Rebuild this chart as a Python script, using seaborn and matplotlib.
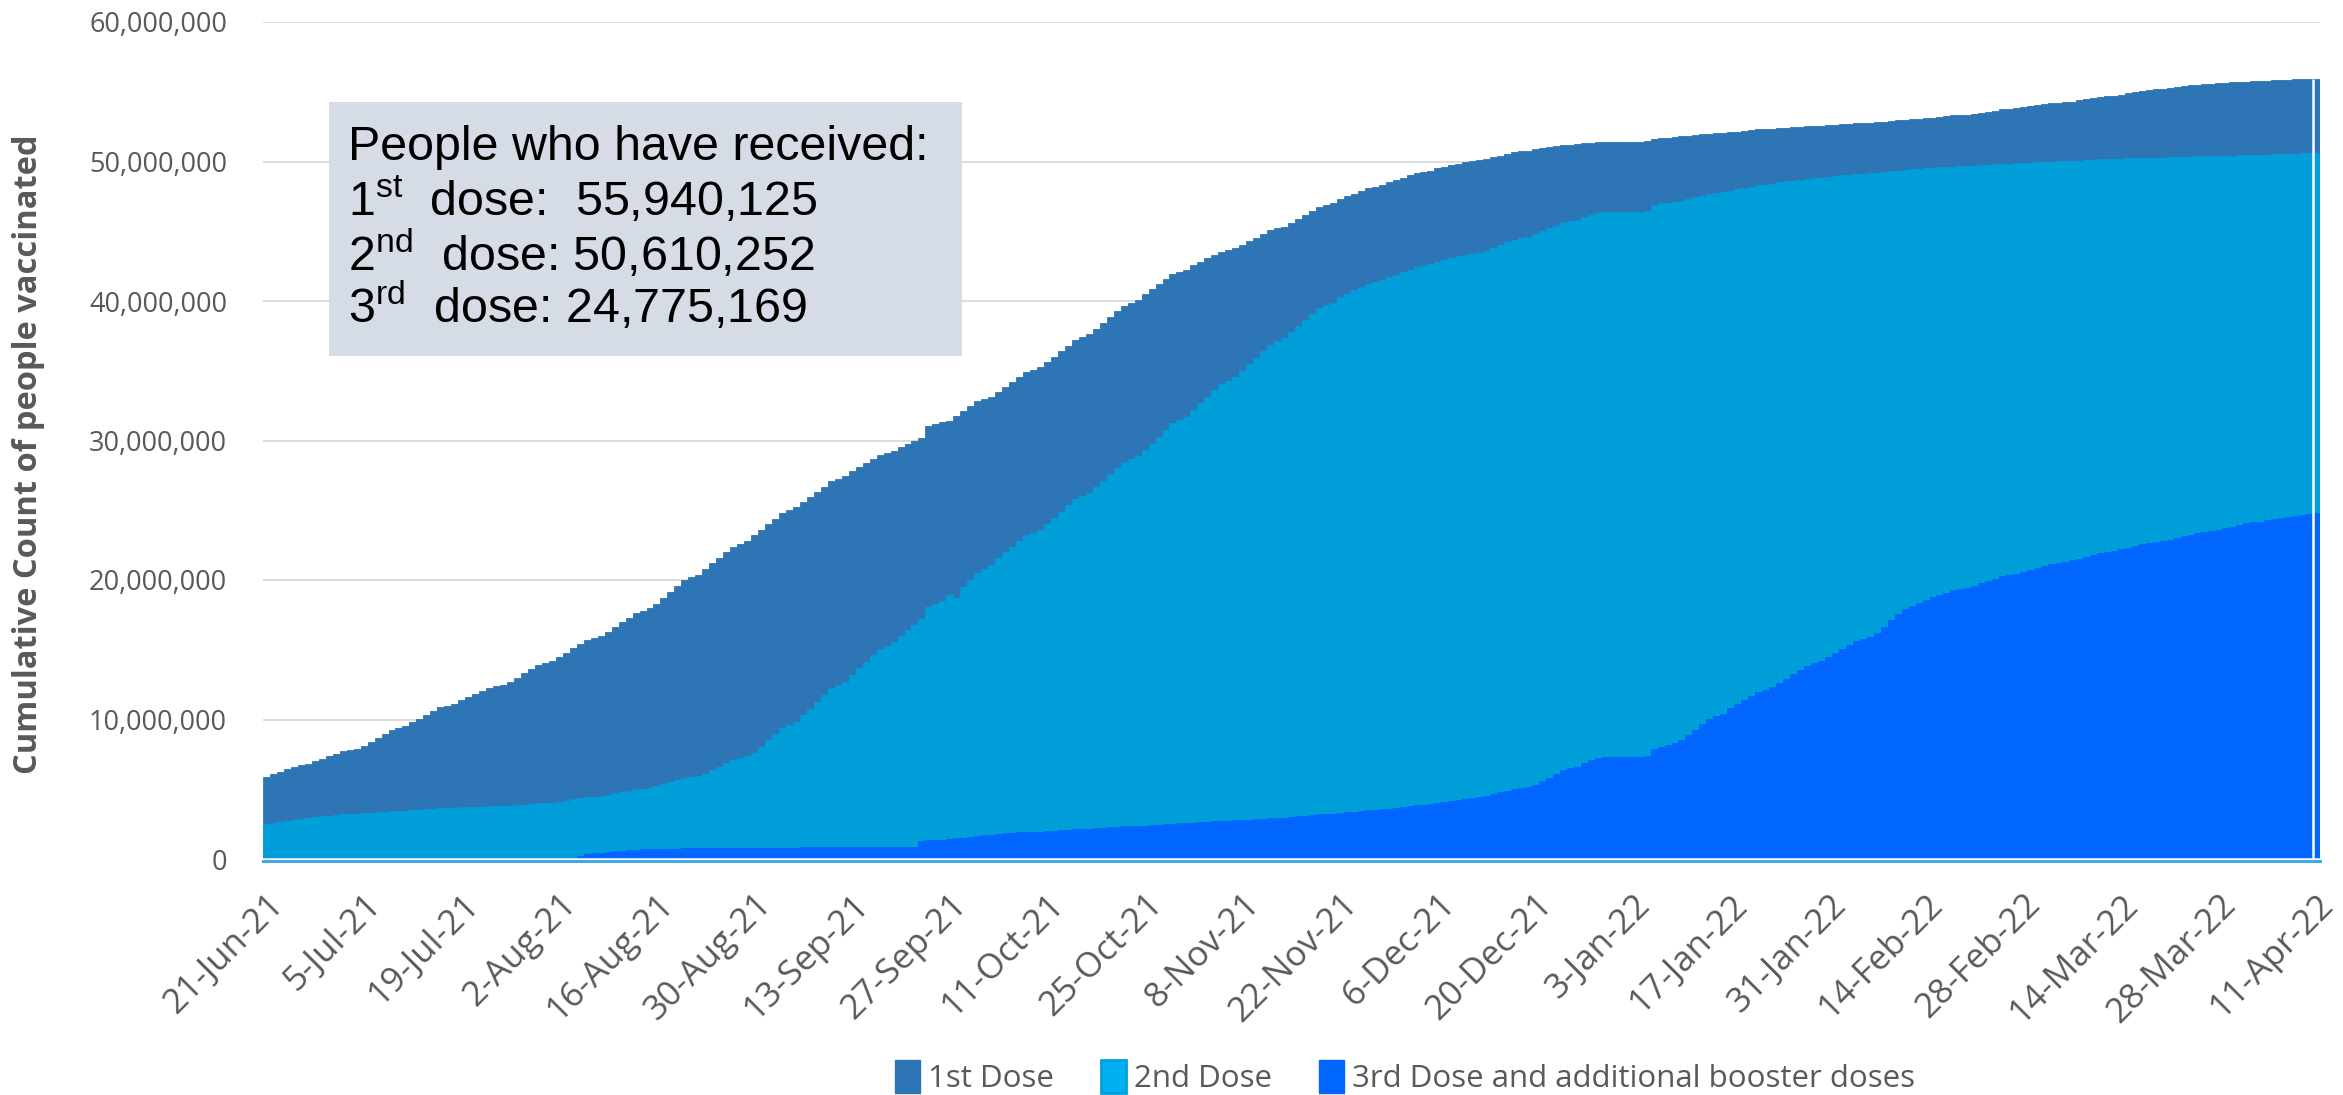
import matplotlib
matplotlib.use("Agg")
import matplotlib.pyplot as plt
from matplotlib.patches import Patch, Rectangle
import seaborn as sns
import pandas as pd
import numpy as np

# ---------------- data (millions of people, one value per day 21-Jun-21 .. 11-Apr-22) ----------------
first_dose = [
    5.90, 6.08, 6.27, 6.45, 6.63, 6.73, 6.82,
    7.00, 7.18, 7.37, 7.55, 7.73, 7.83, 7.92,
    8.10, 8.38, 8.67, 8.95, 9.23, 9.38, 9.52,
    9.80, 10.07, 10.33, 10.60, 10.87, 11.00, 11.13,
    11.40, 11.62, 11.83, 12.05, 12.27, 12.38, 12.48,
    12.70, 13.00, 13.30, 13.60, 13.90, 14.05, 14.20,
    14.50, 14.80, 15.10, 15.40, 15.70, 15.85, 16.00,
    16.30, 16.63, 16.97, 17.30, 17.63, 17.80, 17.97,
    18.30, 18.72, 19.13, 19.55, 19.97, 20.18, 20.38,
    20.80, 21.20, 21.60, 22.00, 22.40, 22.60, 22.80,
    23.20, 23.60, 24.00, 24.40, 24.80, 25.00, 25.20,
    25.60, 25.97, 26.33, 26.70, 27.07, 27.25, 27.43,
    27.80, 28.08, 28.37, 28.65, 28.93, 29.08, 29.22,
    29.50, 29.72, 29.95, 30.15, 31.05, 31.20, 31.30,
    31.40, 31.75, 32.10, 32.45, 32.80, 32.98, 33.15,
    33.50, 33.85, 34.20, 34.55, 34.90, 35.08, 35.25,
    35.60, 36.00, 36.40, 36.80, 37.20, 37.40, 37.60,
    38.00, 38.42, 38.83, 39.25, 39.67, 39.88, 40.08,
    40.50, 40.85, 41.20, 41.55, 41.90, 42.08, 42.25,
    42.60, 42.83, 43.07, 43.30, 43.53, 43.65, 43.77,
    44.00, 44.27, 44.53, 44.80, 45.07, 45.20, 45.33,
    45.60, 45.88, 46.17, 46.45, 46.73, 46.88, 47.02,
    47.30, 47.50, 47.70, 47.90, 48.10, 48.20, 48.30,
    48.50, 48.67, 48.83, 49.00, 49.17, 49.25, 49.33,
    49.50, 49.62, 49.73, 49.85, 49.97, 50.03, 50.08,
    50.20, 50.32, 50.43, 50.55, 50.67, 50.73, 50.78,
    50.90, 50.97, 51.03, 51.10, 51.17, 51.20, 51.23,
    51.30, 51.33, 51.37, 51.40, 51.40, 51.40, 51.40,
    51.40, 51.40, 51.45, 51.60, 51.65, 51.70, 51.75,
    51.80, 51.85, 51.90, 51.95, 52.00, 52.03, 52.05,
    52.10, 52.15, 52.20, 52.25, 52.30, 52.33, 52.35,
    52.40, 52.43, 52.47, 52.50, 52.53, 52.55, 52.57,
    52.60, 52.63, 52.67, 52.70, 52.73, 52.75, 52.77,
    52.80, 52.85, 52.90, 52.95, 53.00, 53.03, 53.05,
    53.10, 53.15, 53.20, 53.25, 53.30, 53.33, 53.35,
    53.40, 53.48, 53.57, 53.65, 53.73, 53.78, 53.82,
    53.90, 53.97, 54.03, 54.10, 54.17, 54.20, 54.23,
    54.30, 54.38, 54.47, 54.55, 54.63, 54.68, 54.72,
    54.80, 54.88, 54.97, 55.05, 55.13, 55.18, 55.22,
    55.30, 55.35, 55.40, 55.45, 55.50, 55.53, 55.55,
    55.60, 55.63, 55.67, 55.70, 55.73, 55.75, 55.77,
    55.80, 55.82, 55.85, 55.87, 55.89, 55.90, 55.92,
    55.94,
]

second_dose = [
    2.50, 2.58, 2.67, 2.75, 2.83, 2.88, 2.92,
    3.00, 3.05, 3.10, 3.15, 3.20, 3.23, 3.25,
    3.30, 3.33, 3.37, 3.40, 3.43, 3.45, 3.47,
    3.50, 3.53, 3.57, 3.60, 3.63, 3.65, 3.67,
    3.70, 3.72, 3.73, 3.75, 3.77, 3.78, 3.78,
    3.80, 3.85, 3.90, 3.95, 4.00, 4.03, 4.05,
    4.10, 4.18, 4.27, 4.35, 4.43, 4.48, 4.52,
    4.60, 4.70, 4.80, 4.90, 5.00, 5.05, 5.10,
    5.20, 5.35, 5.50, 5.65, 5.80, 5.88, 5.95,
    6.10, 6.35, 6.60, 6.85, 7.10, 7.23, 7.35,
    7.60, 8.05, 8.50, 8.95, 9.40, 9.63, 9.85,
    10.30, 10.78, 11.27, 11.75, 12.23, 12.48, 12.72,
    13.20, 13.67, 14.13, 14.60, 15.07, 15.30, 15.53,
    16.00, 16.40, 16.80, 17.20, 18.10, 18.30, 18.50,
    18.90, 18.70, 19.50, 20.00, 20.50, 20.80, 21.10,
    21.60, 22.00, 22.40, 22.80, 23.20, 23.40, 23.60,
    24.00, 24.45, 24.90, 25.35, 25.80, 26.03, 26.25,
    26.70, 27.13, 27.57, 28.00, 28.43, 28.65, 28.87,
    29.30, 29.78, 30.27, 30.75, 31.23, 31.48, 31.72,
    32.20, 32.67, 33.13, 33.60, 34.07, 34.30, 34.53,
    35.00, 35.47, 35.93, 36.40, 36.87, 37.10, 37.33,
    37.80, 38.22, 38.63, 39.05, 39.47, 39.68, 39.88,
    40.30, 40.53, 40.77, 41.00, 41.23, 41.35, 41.47,
    41.70, 41.88, 42.07, 42.25, 42.43, 42.53, 42.62,
    42.80, 42.93, 43.07, 43.20, 43.33, 43.40, 43.47,
    43.60, 43.80, 44.00, 44.20, 44.40, 44.50, 44.60,
    44.80, 45.00, 45.20, 45.40, 45.60, 45.70, 45.80,
    46.00, 46.15, 46.30, 46.40, 46.40, 46.40, 46.40,
    46.40, 46.40, 46.45, 46.90, 47.00, 47.05, 47.10,
    47.20, 47.32, 47.43, 47.55, 47.67, 47.73, 47.78,
    47.90, 48.00, 48.10, 48.20, 48.30, 48.35, 48.40,
    48.50, 48.57, 48.63, 48.70, 48.77, 48.80, 48.83,
    48.90, 48.95, 49.00, 49.05, 49.10, 49.13, 49.15,
    49.20, 49.25, 49.30, 49.35, 49.40, 49.43, 49.45,
    49.50, 49.53, 49.57, 49.60, 49.63, 49.65, 49.67,
    49.70, 49.73, 49.77, 49.80, 49.83, 49.85, 49.87,
    49.90, 49.92, 49.95, 49.97, 50.00, 50.01, 50.03,
    50.05, 50.07, 50.10, 50.12, 50.15, 50.16, 50.18,
    50.20, 50.22, 50.23, 50.25, 50.27, 50.28, 50.28,
    50.30, 50.32, 50.33, 50.35, 50.37, 50.38, 50.38,
    50.40, 50.42, 50.43, 50.45, 50.47, 50.48, 50.48,
    50.50, 50.52, 50.54, 50.56, 50.57, 50.58, 50.59,
    50.61,
]

third_dose = [
    0, 0, 0, 0, 0, 0, 0,
    0, 0, 0, 0, 0, 0, 0,
    0, 0, 0, 0, 0, 0, 0,
    0, 0, 0, 0, 0, 0, 0,
    0, 0, 0, 0, 0, 0, 0,
    0, 0, 0, 0, 0, 0, 0,
    0, 0, 0, 0.25, 0.35, 0.40, 0.45,
    0.50, 0.55, 0.60, 0.63, 0.66, 0.69, 0.70,
    0.72, 0.73, 0.74, 0.75, 0.76, 0.77, 0.78,
    0.79, 0.79, 0.80, 0.80, 0.80, 0.80, 0.80,
    0.81, 0.81, 0.81, 0.82, 0.82, 0.82, 0.82,
    0.83, 0.83, 0.83, 0.83, 0.84, 0.84, 0.84,
    0.84, 0.85, 0.85, 0.85, 0.85, 0.86, 0.86,
    0.86, 0.87, 0.87, 1.30, 1.33, 1.35, 1.37,
    1.40, 1.47, 1.53, 1.60, 1.67, 1.70, 1.73,
    1.80, 1.83, 1.87, 1.90, 1.93, 1.95, 1.97,
    2.00, 2.03, 2.07, 2.10, 2.13, 2.15, 2.17,
    2.20, 2.23, 2.27, 2.30, 2.33, 2.35, 2.37,
    2.40, 2.43, 2.47, 2.50, 2.53, 2.55, 2.57,
    2.60, 2.63, 2.67, 2.70, 2.73, 2.75, 2.77,
    2.80, 2.83, 2.87, 2.90, 2.93, 2.95, 2.97,
    3.00, 3.05, 3.10, 3.15, 3.20, 3.23, 3.25,
    3.30, 3.35, 3.40, 3.45, 3.50, 3.53, 3.55,
    3.60, 3.67, 3.73, 3.80, 3.87, 3.90, 3.93,
    4.00, 4.08, 4.17, 4.25, 4.33, 4.38, 4.42,
    4.50, 4.63, 4.77, 4.90, 5.03, 5.10, 5.17,
    5.30, 5.57, 5.83, 6.10, 6.37, 6.50, 6.63,
    6.90, 7.10, 7.25, 7.30, 7.30, 7.30, 7.30,
    7.30, 7.30, 7.35, 7.90, 8.05, 8.20, 8.35,
    8.50, 8.88, 9.27, 9.65, 10.03, 10.23, 10.42,
    10.80, 11.10, 11.40, 11.70, 12.00, 12.15, 12.30,
    12.60, 12.92, 13.23, 13.55, 13.87, 14.03, 14.18,
    14.50, 14.78, 15.07, 15.35, 15.63, 15.78, 15.92,
    16.20, 16.60, 17.10, 17.55, 17.95, 18.15, 18.35,
    18.60, 18.77, 18.93, 19.10, 19.27, 19.35, 19.43,
    19.60, 19.77, 19.93, 20.10, 20.27, 20.35, 20.43,
    20.60, 20.73, 20.87, 21.00, 21.13, 21.20, 21.27,
    21.40, 21.53, 21.67, 21.80, 21.93, 22.00, 22.07,
    22.20, 22.32, 22.43, 22.55, 22.67, 22.73, 22.78,
    22.90, 23.02, 23.13, 23.25, 23.37, 23.43, 23.48,
    23.60, 23.72, 23.83, 23.95, 24.07, 24.13, 24.18,
    24.30, 24.38, 24.46, 24.54, 24.62, 24.66, 24.70,
    24.78,
]

tick_labels = ["21-Jun-21", "5-Jul-21", "19-Jul-21", "2-Aug-21", "16-Aug-21", "30-Aug-21",
               "13-Sep-21", "27-Sep-21", "11-Oct-21", "25-Oct-21", "8-Nov-21", "22-Nov-21",
               "6-Dec-21", "20-Dec-21", "3-Jan-22", "17-Jan-22", "31-Jan-22", "14-Feb-22",
               "28-Feb-22", "14-Mar-22", "28-Mar-22", "11-Apr-22"]

series_names = ["1st Dose", "2nd Dose", "3rd Dose and additional booster doses"]
box_lines = ["People who have received:",
             r"1$^{\mathrm{st}}$  dose:  55,940,125",
             r"2$^{\mathrm{nd}}$  dose: 50,610,252",
             r"3$^{\mathrm{rd}}$  dose: 24,775,169"]

# ---------------- styling ----------------
C1, C2, C3 = "#2E75B6", "#009FDA", "#0066FF"
GREY = "#595959"

sns.set_theme(style="white")
plt.rcParams["font.family"] = ["Open Sans", "DejaVu Sans"]
plt.rcParams["mathtext.fontset"] = "custom"
plt.rcParams["mathtext.rm"] = "Liberation Sans"

dates = pd.date_range("2021-06-21", periods=len(first_dose), freq="D")
df = pd.DataFrame({
    "day": dates.strftime("%Y-%m-%d"),
    "first": first_dose,
    "second": second_dose,
    "third": third_dose,
})

W, H = 2343, 1095
fig = plt.figure(figsize=(W / 100, H / 100), dpi=100)
L, R, T, B = 263, 2320, 22, 859
ax = fig.add_axes([L / W, 1 - B / H, (R - L) / W, (B - T) / H])

for col, c in (("first", C1), ("second", C2), ("third", C3)):
    sns.barplot(data=df, x="day", y=col, color=c, saturation=1, width=1.0,
                errorbar=None, ax=ax, edgecolor=c, linewidth=0.6, zorder=2)

n = len(first_dose)
ax.set_xlim(-0.5, n - 0.5)
ax.set_ylim(0, 60)
ax.set_yticks(np.arange(0, 61, 10))
ax.set_yticklabels([f"{int(v * 1_000_000):,}" for v in np.arange(0, 61, 10)])
ax.set_xticks(np.arange(0, n, 14))
ax.set_xticklabels(tick_labels)

ax.tick_params(axis="y", length=0, pad=26, labelsize=19.5, labelcolor=GREY)
ax.tick_params(axis="x", length=0, pad=19, labelsize=25, labelcolor=GREY, labelrotation=45)


def align_xlabels():
    for lab in ax.get_xticklabels():
        lab.set_rotation(45)
        lab.set_rotation_mode("anchor")
        lab.set_horizontalalignment("right")
        lab.set_verticalalignment("top")


align_xlabels()

ax.set_xlabel("")
ax.set_ylabel("Cumulative Count of people vaccinated", fontsize=23.5, fontweight="bold", color=GREY)
ax.yaxis.set_label_coords(-0.106, 0.484)

ax.grid(axis="y", color="#D9D9D9", linewidth=1.3)
ax.grid(axis="x", visible=False)
ax.set_axisbelow(True)
for s in ("top", "right", "left"):
    ax.spines[s].set_visible(False)
ax.spines["bottom"].set_color("#45A9E0")
ax.spines["bottom"].set_linewidth(2.2)
ax.spines["bottom"].set_position(("outward", 1.5))
ax.axhline(0, color="#E6EEF5", linewidth=1.2, zorder=4)
# thin white separation before the final bar
ax.vlines(n - 1.5, 0, first_dose[-1], color="white", linewidth=1.8, zorder=5)

# annotation box
bx0, by0, bx1, by1 = 329, 102, 962, 356
fig.patches.append(Rectangle((bx0 / W, 1 - by1 / H), (bx1 - bx0) / W, (by1 - by0) / H,
                             transform=fig.transFigure, facecolor="#D6DCE5",
                             edgecolor="none", zorder=5))
baselines = [160, 216, 271, 323]
for txt, yb in zip(box_lines, baselines):
    fig.text(348 / W, 1 - yb / H, txt, fontsize=34.8, color="black",
             family=["Liberation Sans", "DejaVu Sans"], ha="left", va="baseline", zorder=6)

# legend
handles = [Patch(facecolor=C1, edgecolor=C1),
           Patch(facecolor="#00B0F0", edgecolor=C2, linewidth=2),
           Patch(facecolor=C3, edgecolor=C3)]
fig.legend(handles, series_names, loc="center", bbox_to_anchor=(1405 / W, 1 - 1077 / H),
           ncol=3, frameon=False, fontsize=22.5, labelcolor=GREY,
           handlelength=0.8, handleheight=1.25, handletextpad=0.25, columnspacing=1.5)

fig.canvas.draw()
align_xlabels()
fig.savefig("out.png", dpi=100)
